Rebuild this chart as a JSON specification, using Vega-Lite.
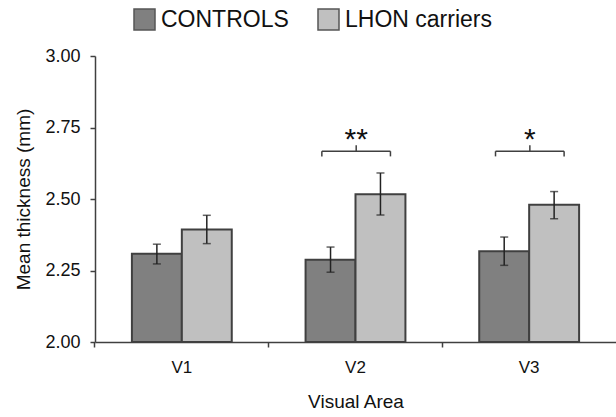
{
  "$schema": "https://vega.github.io/schema/vega-lite/v6.json",
  "autosize": "none",
  "width": 521,
  "height": 286,
  "padding": {"left": 95, "top": 56, "right": 0, "bottom": 75},
  "background": "white",
  "config": {
    "view": {"stroke": null},
    "font": "Liberation Sans",
    "axis": {"labelFont": "Liberation Sans", "titleFont": "Liberation Sans", "labelColor": "#111111", "titleColor": "#111111", "domainColor": "#404040", "tickColor": "#404040", "domainWidth": 1.5, "tickWidth": 1.5, "grid": false}
  },
  "datasets": {
    "bars": [
      {"Area": "V1", "Group": "CONTROLS", "mean": 2.309, "lo": 2.273, "hi": 2.342},
      {"Area": "V1", "Group": "LHON carriers", "mean": 2.393, "lo": 2.344, "hi": 2.443},
      {"Area": "V2", "Group": "CONTROLS", "mean": 2.288, "lo": 2.244, "hi": 2.332},
      {"Area": "V2", "Group": "LHON carriers", "mean": 2.517, "lo": 2.444, "hi": 2.591},
      {"Area": "V3", "Group": "CONTROLS", "mean": 2.317, "lo": 2.268, "hi": 2.367},
      {"Area": "V3", "Group": "LHON carriers", "mean": 2.48, "lo": 2.431, "hi": 2.526}
    ],
    "sig": [
      {"Area": "V2", "bar": 2.667, "end": 2.649, "top": 2.688, "star": 2.688, "label": "**"},
      {"Area": "V3", "bar": 2.667, "end": 2.649, "top": 2.688, "star": 2.688, "label": "*"}
    ]
  },
  "layer": [
    {
      "data": {"name": "bars"},
      "mark": {"type": "bar", "stroke": "#404040", "strokeWidth": 2},
      "encoding": {
        "x": {"field": "Area", "type": "nominal", "sort": ["V1", "V2", "V3"],
          "scale": {"paddingInner": 0.425, "paddingOuter": 0.2125},
          "axis": {"title": "Visual Area", "labelAngle": 0, "labelFontSize": 17, "titleFontSize": 19, "titleFontWeight": "normal", "labelPadding": 12, "titlePadding": 17, "tickSize": 5, "bandPosition": -0.37}},
        "xOffset": {"field": "Group", "type": "nominal", "scale": {"paddingInner": 0, "paddingOuter": 0}},
        "y": {"field": "mean", "type": "quantitative",
          "scale": {"domain": [2, 3], "zero": false, "nice": false},
          "axis": {"title": "Mean thickness (mm)", "values": [2, 2.25, 2.5, 2.75, 3], "format": ".2f", "labelFontSize": 18, "titleFontSize": 19, "titleFontWeight": "normal", "labelPadding": 10, "titlePadding": 11, "tickSize": 5}},
        "y2": {"datum": 2},
        "fill": {"field": "Group", "type": "nominal",
          "scale": {"domain": ["CONTROLS", "LHON carriers"], "range": ["#808080", "#c0c0c0"]},
          "legend": {"title": null, "orient": "none", "legendX": 38, "legendY": -48, "direction": "horizontal", "symbolType": "square", "symbolSize": 441, "symbolStrokeColor": "#555555", "symbolStrokeWidth": 1.5, "labelFontSize": 23, "labelColor": "#111111", "labelOffset": 5, "columnPadding": 26, "padding": 0, "labelLimit": 300}}
      }
    },
    {
      "data": {"name": "bars"},
      "mark": {"type": "rule", "color": "#222222", "strokeWidth": 1.5},
      "encoding": {
        "x": {"field": "Area", "type": "nominal", "sort": ["V1", "V2", "V3"]},
        "xOffset": {"field": "Group", "type": "nominal"},
        "y": {"field": "lo", "type": "quantitative"},
        "y2": {"field": "hi"}
      }
    },
    {
      "data": {"name": "bars"},
      "mark": {"type": "tick", "color": "#222222", "size": 8, "thickness": 1.5},
      "encoding": {
        "x": {"field": "Area", "type": "nominal", "sort": ["V1", "V2", "V3"]},
        "xOffset": {"field": "Group", "type": "nominal"},
        "y": {"field": "lo", "type": "quantitative"}
      }
    },
    {
      "data": {"name": "bars"},
      "mark": {"type": "tick", "color": "#222222", "size": 8, "thickness": 1.5},
      "encoding": {
        "x": {"field": "Area", "type": "nominal", "sort": ["V1", "V2", "V3"]},
        "xOffset": {"field": "Group", "type": "nominal"},
        "y": {"field": "hi", "type": "quantitative"}
      }
    },
    {
      "data": {"name": "sig"},
      "mark": {"type": "rule", "color": "#404040", "strokeWidth": 1.5},
      "encoding": {
        "x": {"field": "Area", "type": "nominal", "bandPosition": 0.163},
        "x2": {"field": "Area", "bandPosition": 0.85},
        "y": {"field": "bar", "type": "quantitative"}
      }
    },
    {
      "data": {"name": "sig"},
      "mark": {"type": "rule", "color": "#404040", "strokeWidth": 1.5},
      "encoding": {
        "x": {"field": "Area", "type": "nominal", "bandPosition": 0.163},
        "y": {"field": "end", "type": "quantitative"},
        "y2": {"field": "bar"}
      }
    },
    {
      "data": {"name": "sig"},
      "mark": {"type": "rule", "color": "#404040", "strokeWidth": 1.5},
      "encoding": {
        "x": {"field": "Area", "type": "nominal", "bandPosition": 0.85},
        "y": {"field": "end", "type": "quantitative"},
        "y2": {"field": "bar"}
      }
    },
    {
      "data": {"name": "sig"},
      "mark": {"type": "rule", "color": "#404040", "strokeWidth": 1.5},
      "encoding": {
        "x": {"field": "Area", "type": "nominal", "bandPosition": 0.507},
        "y": {"field": "bar", "type": "quantitative"},
        "y2": {"field": "top"}
      }
    },
    {
      "data": {"name": "sig"},
      "mark": {"type": "text", "fontSize": 30, "baseline": "alphabetic", "align": "center", "color": "#111111", "dy": 4},
      "encoding": {
        "x": {"field": "Area", "type": "nominal", "bandPosition": 0.507},
        "y": {"field": "star", "type": "quantitative"},
        "text": {"field": "label"}
      }
    }
  ]
}
